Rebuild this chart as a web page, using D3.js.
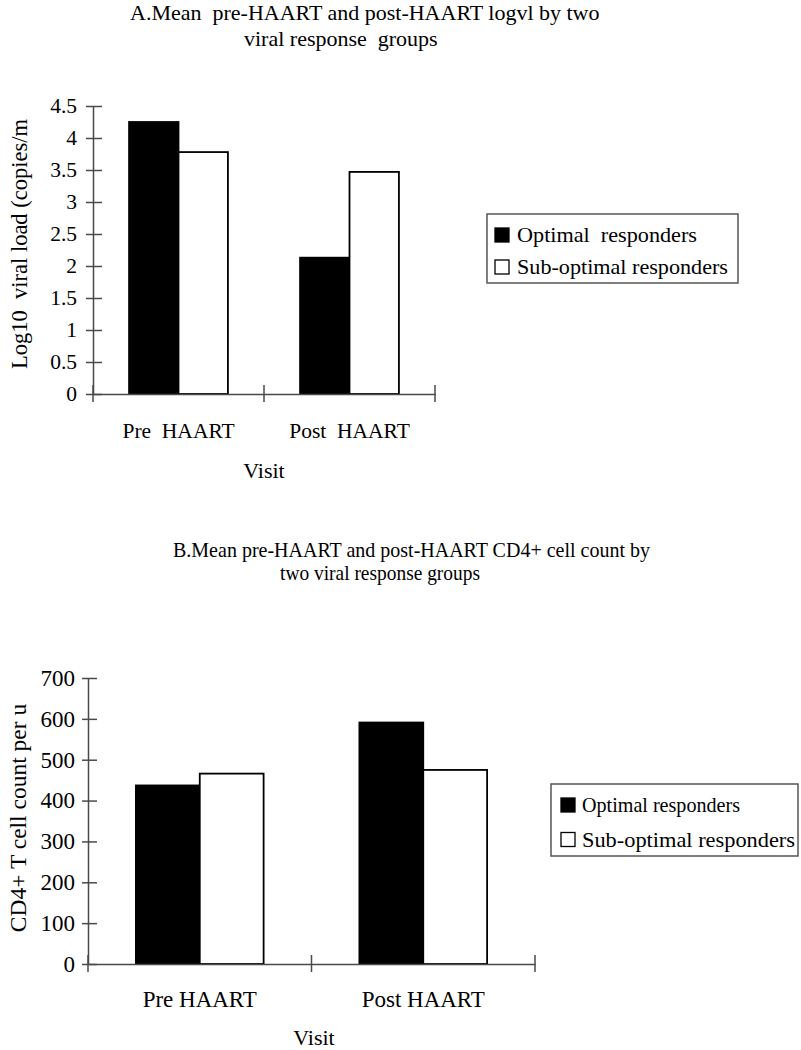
<!DOCTYPE html>
<html>
<head>
<meta charset="utf-8">
<script src="https://cdn.jsdelivr.net/npm/d3@7"></script>
<style>
  body { margin: 0; background: #fff; }
  text { font-family: "Liberation Serif", "Times New Roman", serif; fill: #000; white-space: pre; }
</style>
</head>
<body>
<div id="chart"></div>
<script>
  // chart data
  var groups = ["Optimal responders", "Sub-optimal responders"];

  // panel A : log10 viral load
  var visitsA = ["Pre  HAART", "Post  HAART"];
  var logvlOptimal = [4.25, 2.13];
  var logvlSubOptimal = [3.78, 3.47];
  var logvlTicks = [0, 0.5, 1, 1.5, 2, 2.5, 3, 3.5, 4, 4.5];

  // panel B : CD4+ count
  var visitsB = ["Pre HAART", "Post HAART"];
  var cd4Optimal = [437, 591];
  var cd4SubOptimal = [466, 475];
  var cd4Ticks = [0, 100, 200, 300, 400, 500, 600, 700];

  var fills = ["#000", "#fff"];
  var axisColor = "#4a4a4a";
  var serif = "'Liberation Serif', 'Times New Roman', serif";

  var svg = d3.select("#chart")
    .append("svg")
    .attr("width", 801)
    .attr("height", 1050)
    .attr("font-family", serif);

  svg.append("rect").attr("width", 801).attr("height", 1050).attr("fill", "#fff");

  /*
    draws one grouped bar panel
  */
  function panel(o) {
    var g = svg.append("g");

    var y = d3.scaleLinear()
      .domain([0, d3.max(o.ticks)])
      .range([o.bottom, o.top]);

    var x = d3.scaleBand()
      .domain(o.visits)
      .range([o.left, o.right]);

    var xSub = d3.scaleBand()
      .domain(groups)
      .range([0, x.bandwidth()])
      .paddingOuter(o.pad);

    var rows = o.visits.map(function (v, i) {
      return { visit: v, values: [o.series[0][i], o.series[1][i]] };
    });

    // bars
    g.selectAll(".grp")
      .data(rows)
      .enter().append("g")
      .attr("transform", function (d) { return "translate(" + x(d.visit) + ",0)"; })
      .selectAll("rect")
      .data(function (d) { return d.values.map(function (v, k) { return { g: groups[k], v: v, k: k }; }); })
      .enter().append("rect")
      .attr("x", function (d) { return xSub(d.g); })
      .attr("width", xSub.bandwidth())
      .attr("y", function (d) { return y(d.v); })
      .attr("height", function (d) { return y(0) - y(d.v); })
      .attr("fill", function (d) { return fills[d.k]; })
      .attr("stroke", "#000")
      .attr("stroke-width", 1.8);

    // y axis, ticks crossing the line
    var ya = g.append("g")
      .attr("transform", "translate(" + o.left + ",0)")
      .call(d3.axisLeft(y).tickValues(o.ticks).tickFormat(d3.format(""))
        .tickSize(o.tickL).tickPadding(o.tickPad).tickSizeOuter(0));
    ya.attr("font-family", null).attr("font-size", o.fs);
    ya.select(".domain").attr("stroke", axisColor).attr("stroke-width", 1.5);
    ya.selectAll(".tick line").attr("x1", o.tickR).attr("stroke", axisColor).attr("stroke-width", 1.5);
    ya.selectAll(".tick text").attr("fill", "#000");

    // x axis with category labels
    var xa = g.append("g")
      .attr("transform", "translate(0," + o.bottom + ")")
      .call(d3.axisBottom(x).tickSize(0).tickPadding(o.labPad).tickSizeOuter(0));
    xa.attr("font-family", null).attr("font-size", o.fs);
    xa.select(".domain").attr("stroke", axisColor).attr("stroke-width", 1.5);
    xa.selectAll(".tick text").attr("fill", "#000");

    var edges = [o.left].concat(o.visits.map(function (v) { return x(v) + x.bandwidth(); }));
    xa.selectAll(".edge")
      .data(edges)
      .enter().append("line")
      .attr("x1", function (d) { return d; })
      .attr("x2", function (d) { return d; })
      .attr("y1", -9)
      .attr("y2", 8)
      .attr("stroke", axisColor)
      .attr("stroke-width", 1.5);

    // axis titles
    g.append("text")
      .attr("transform", "translate(" + o.yLabX + "," + o.yLabY + ") rotate(-90)")
      .attr("text-anchor", "middle")
      .attr("font-size", o.yLabFs)
      .text(o.yLabel);

    g.append("text")
      .attr("x", o.visitX)
      .attr("y", o.visitY)
      .attr("text-anchor", "middle")
      .attr("font-size", 22)
      .text("Visit");

    // chart title
    var tt = g.selectAll(".title")
      .data(o.title)
      .enter().append("text")
      .attr("x", function (d) { return d.x; })
      .attr("y", function (d) { return d.y; })
      .attr("font-size", 22)
      .text(function (d) { return d.t; });
    tt.filter(function (d) { return d.w; })
      .attr("textLength", function (d) { return d.w; })
      .attr("lengthAdjust", "spacingAndGlyphs");

    // legend
    var L = o.leg;
    var lg = g.append("g");
    lg.append("rect")
      .attr("x", L.x).attr("y", L.y)
      .attr("width", L.w).attr("height", L.h)
      .attr("fill", "#fff")
      .attr("stroke", "#555")
      .attr("stroke-width", 1.5);
    var items = lg.selectAll(".item")
      .data(o.legNames)
      .enter().append("g")
      .attr("transform", function (d, i) { return "translate(" + (L.x + L.sx) + "," + (L.y + L.sy + i * L.step) + ")"; });
    items.append("rect")
      .attr("width", 14).attr("height", 14)
      .attr("fill", function (d, i) { return fills[i]; })
      .attr("stroke", "#000")
      .attr("stroke-width", 1.3);
    items.append("text")
      .attr("x", L.tx)
      .attr("y", 14)
      .attr("font-size", 22)
      .attr("textLength", function (d, i) { return L.tw[i]; })
      .attr("lengthAdjust", "spacingAndGlyphs")
      .text(function (d) { return d; });
  }

  panel({
    visits: visitsA,
    series: [logvlOptimal, logvlSubOptimal],
    ticks: logvlTicks,
    left: 93, right: 435, top: 106, bottom: 394,
    pad: 0.73, tickL: 7, tickR: 9, tickPad: 9, labPad: 29, fs: 21.5,
    yLabel: "Log10  viral load (copies/m", yLabX: 27, yLabY: 244, yLabFs: 22.5,
    visitX: 264, visitY: 478,
    title: [
      { t: "A.Mean  pre-HAART and post-HAART logvl by two", x: 130, y: 20 },
      { t: "viral response  groups", x: 244, y: 46 }
    ],
    leg: { x: 487, y: 214, w: 251, h: 69, step: 32, sx: 8, sy: 14, tx: 22, tw: [180, 211] },
    legNames: ["Optimal  responders", "Sub-optimal responders"]
  });

  panel({
    visits: visitsB,
    series: [cd4Optimal, cd4SubOptimal],
    ticks: cd4Ticks,
    left: 88, right: 535, top: 678, bottom: 964,
    pad: 0.75, tickL: 6, tickR: 9, tickPad: 7, labPad: 27, fs: 23,
    yLabel: "CD4+ T cell count per u", yLabX: 26, yLabY: 818, yLabFs: 23.5,
    visitX: 314, visitY: 1045,
    title: [
      { t: "B.Mean pre-HAART and post-HAART CD4+ cell count by", x: 173, y: 557, w: 477 },
      { t: "two viral response groups", x: 280, y: 580, w: 200 }
    ],
    leg: { x: 551, y: 784, w: 247, h: 72, step: 34.5, sx: 10, sy: 14, tx: 21, tw: [158, 213] },
    legNames: groups
  });
</script>
</body>
</html>
